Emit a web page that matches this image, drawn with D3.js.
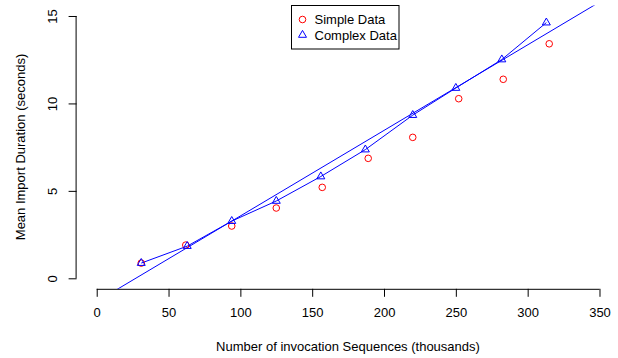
<!DOCTYPE html>
<html>
<head>
<meta charset="utf-8">
<script src="https://cdn.jsdelivr.net/npm/d3@7"></script>
<style>
  body { margin: 0; background: #fff; }
  svg { display: block; font-family: "Liberation Sans", Arial, sans-serif; }
</style>
</head>
<body>
<svg id="chart" width="618" height="358"></svg>
<script>
// data (x in thousands, y in seconds)
const simpleX = [31, 62, 94, 125, 157, 189, 220, 252, 283, 315];
const simpleY = [0.87, 1.90, 2.99, 4.02, 5.20, 6.86, 8.06, 10.27, 11.38, 13.41];
const complexX = [31, 63, 94, 125, 156, 187, 220, 250, 282, 313];
const complexY = [0.87, 1.84, 3.27, 4.42, 5.82, 7.36, 9.33, 10.88, 12.51, 14.62];
const xTicks = [0, 50, 100, 150, 200, 250, 300, 350];
const yTicks = [0, 5, 10, 15];
const legendItems = [
    { label: 'Simple Data', color: '#ff0000', type: 'circle' },
    { label: 'Complex Data', color: '#0000ff', type: 'triangle' }
];

const fontSize = '13px';
const svg = d3.select('#chart');

// plot region, R style: limits 0..350 and 0..15 padded by 4%
const x = d3.scaleLinear().domain([-14, 364]).range([76.6, 619.6]);
const y = d3.scaleLinear().domain([-0.6, 15.6]).range([288.8, 5.5]);

svg.append('defs').append('clipPath')
    .attr('id', 'plot-clip')
    .append('rect')
    .attr('x', 76.6).attr('y', 5.5)
    .attr('width', 543).attr('height', 283.3);

// x axis
const xAxis = svg.append('g')
    .attr('transform', `translate(0, ${y.range()[0]})`)
    .call(d3.axisBottom(x).tickValues(xTicks).tickSize(8).tickPadding(5).tickSizeOuter(0));
xAxis.select('.domain').attr('d', `M${x(0)},0.5H${x(350)}`);

// y axis
const yAxis = svg.append('g')
    .attr('transform', `translate(${x.range()[0]}, 0)`)
    .call(d3.axisLeft(y).tickValues(yTicks).tickSize(8).tickSizeOuter(0));
yAxis.select('.domain').attr('d', `M-0.5,${y(0)}V${y(15)}`);
yAxis.selectAll('.tick text')
    .attr('x', null).attr('dy', null)
    .attr('text-anchor', 'middle')
    .attr('transform', 'translate(-20, 0) rotate(-90)');

svg.selectAll('.tick text')
    .style('font-size', fontSize)
    .style('fill', '#000');
xAxis.selectAll('.tick text').attr('dy', '1.18em');
svg.selectAll('.domain, .tick line').attr('stroke', '#000');

// axis titles
svg.append('text')
    .attr('x', 348).attr('y', 351)
    .attr('text-anchor', 'middle')
    .style('font-size', fontSize)
    .text('Number of invocation Sequences (thousands)');

svg.append('text')
    .attr('transform', 'translate(25, 147) rotate(-90)')
    .attr('text-anchor', 'middle')
    .style('font-size', fontSize)
    .text('Mean Import Duration (seconds)');

const plot = svg.append('g').attr('clip-path', 'url(#plot-clip)');

// least squares fit on the complex series
const mx = d3.mean(complexX), my = d3.mean(complexY);
const slope = d3.sum(complexX, (v, i) => (v - mx) * (complexY[i] - my)) /
    d3.sum(complexX, v => (v - mx) * (v - mx));
const intercept = my - slope * mx;
const xd = x.domain();

plot.append('line')
    .attr('x1', x(xd[0])).attr('y1', y(intercept + slope * xd[0]))
    .attr('x2', x(xd[1])).attr('y2', y(intercept + slope * xd[1]))
    .attr('stroke', '#0000ff')
    .attr('stroke-width', 1);

// polyline through the complex points
plot.append('path')
    .datum(complexX.map((v, i) => [v, complexY[i]]))
    .attr('fill', 'none')
    .attr('stroke', '#0000ff')
    .attr('stroke-width', 1)
    .attr('d', d3.line().x(d => x(d[0])).y(d => y(d[1])));

const triPath = 'M0,-4.6L4,2.3L-4,2.3Z';

plot.selectAll('.simple')
    .data(simpleX.map((v, i) => [v, simpleY[i]]))
    .enter().append('circle')
    .attr('class', 'simple')
    .attr('cx', d => x(d[0])).attr('cy', d => y(d[1]))
    .attr('r', 3.3)
    .attr('fill', 'none')
    .attr('stroke', '#ff0000');

plot.selectAll('.complex')
    .data(complexX.map((v, i) => [v, complexY[i]]))
    .enter().append('path')
    .attr('class', 'complex')
    .attr('transform', d => `translate(${x(d[0])}, ${y(d[1])})`)
    .attr('d', triPath)
    .attr('fill', 'none')
    .attr('stroke', '#0000ff');

// legend
const legend = svg.append('g').attr('transform', 'translate(291.5, 5.5)');
legend.append('rect')
    .attr('width', 107.5).attr('height', 43.5)
    .attr('fill', '#fff')
    .attr('stroke', '#000');

const rows = legend.selectAll('.legend-item')
    .data(legendItems)
    .enter().append('g')
    .attr('class', 'legend-item')
    .attr('transform', (d, i) => `translate(11, ${14 + i * 15.5})`);

rows.each(function(d) {
    const item = d3.select(this);
    if (d.type === 'circle') {
        item.append('circle').attr('r', 3.3)
            .attr('fill', 'none').attr('stroke', d.color);
    } else {
        item.append('path').attr('d', triPath)
            .attr('fill', 'none').attr('stroke', d.color);
    }
});

rows.append('text')
    .attr('x', 12).attr('y', 4.6)
    .style('font-size', fontSize)
    .text(d => d.label);
</script>
</body>
</html>
